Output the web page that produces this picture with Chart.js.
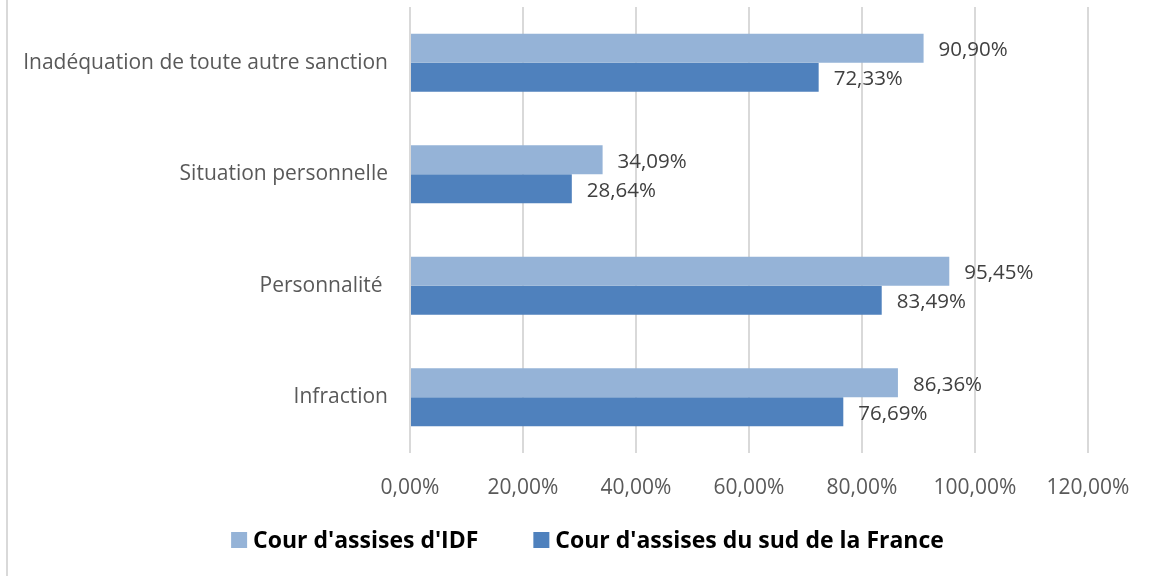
<!DOCTYPE html>
<html>
<head>
<meta charset="utf-8">
<script src="https://cdn.jsdelivr.net/npm/chart.js@4.4.1/dist/chart.umd.min.js"></script>
<style>
  html, body { margin: 0; padding: 0; background: #fff; }
  #wrap { position: relative; width: 1153px; height: 576px; }
  #edge { position: absolute; left: 6px; top: 0; width: 2px; height: 576px; background: #d9d9d9; }
  canvas { display: block; }
</style>
</head>
<body>
<div id="wrap">
  <div id="edge"></div>
  <canvas id="motifsChart" width="1153" height="576"></canvas>
</div>
<script>
// categories, top to bottom
const categories = [
    'Inadéquation de toute autre sanction',
    'Situation personnelle',
    'Personnalité ',
    'Infraction'
];
const seriesNames = ["Cour d'assises d'IDF", "Cour d'assises du sud de la France"];
const idfValues = [90.90, 34.09, 95.45, 86.36];
const sudValues = [72.33, 28.64, 83.49, 76.69];
const xTicks = [0, 20, 40, 60, 80, 100, 120];

const FONT = '"Open Sans", Lato, sans-serif';

function pct(v) {
    return v.toFixed(2).replace('.', ',') + '%';
}

// writes the value next to the end of each bar
const barValues = {
    id: 'barValues',
    afterDatasetsDraw(chart) {
        const ctx = chart.ctx;
        ctx.save();
        ctx.font = '20.5px ' + FONT;
        ctx.fillStyle = '#404040';
        ctx.textAlign = 'left';
        ctx.textBaseline = 'middle';
        chart.data.datasets.forEach((ds, i) => {
            chart.getDatasetMeta(i).data.forEach((bar, j) => {
                ctx.fillText(pct(ds.data[j]), bar.x + 15, bar.y + 2);
            });
        });
        ctx.restore();
    }
};

// legend row under the axis, Excel style (wide gap between entries)
const bottomLegend = {
    id: 'bottomLegend',
    afterDraw(chart) {
        const ctx = chart.ctx;
        const box = 16, gap = 6, spacing = 55;
        const y = 540;
        ctx.save();
        ctx.font = 'bold 23px ' + FONT;
        ctx.textBaseline = 'middle';
        ctx.textAlign = 'left';
        const items = chart.data.datasets.map(ds => ({
            text: ds.label,
            color: ds.backgroundColor,
            w: box + gap + ctx.measureText(ds.label).width
        }));
        const total = items.reduce((s, it) => s + it.w, 0) + spacing * (items.length - 1);
        let x = chart.width / 2 + 11 - total / 2;
        items.forEach(it => {
            ctx.fillStyle = it.color;
            ctx.fillRect(x, y - box / 2, box, box);
            ctx.fillStyle = '#000';
            ctx.fillText(it.text, x + box + gap, y + 1);
            x += it.w + spacing;
        });
        ctx.restore();
    }
};

const ctx = document.getElementById('motifsChart').getContext('2d');
new Chart(ctx, {
    type: 'bar',
    data: {
        labels: categories,
        datasets: [
            {
                label: seriesNames[0],
                data: idfValues,
                backgroundColor: '#95b3d7',
                categoryPercentage: 0.52,
                barPercentage: 1
            },
            {
                label: seriesNames[1],
                data: sudValues,
                backgroundColor: '#4f81bd',
                categoryPercentage: 0.52,
                barPercentage: 1
            }
        ]
    },
    options: {
        indexAxis: 'y',
        responsive: false,
        animation: false,
        layout: {
            padding: { left: 0, top: 7, right: 65, bottom: 73 }
        },
        scales: {
            x: {
                min: 0,
                max: 120,
                afterBuildTicks: scale => {
                    scale.ticks = xTicks.map(v => ({ value: v }));
                },
                afterFit: scale => { scale.height = 50; },
                ticks: {
                    callback: v => pct(v),
                    color: '#595959',
                    font: { family: FONT, size: 21 },
                    padding: 22,
                    maxRotation: 0
                },
                grid: { color: '#d9d9d9', lineWidth: 2, drawTicks: false },
                border: { display: false }
            },
            y: {
                afterFit: scale => {
                    scale.width = 410;
                    scale.paddingTop = 0;
                    scale.paddingBottom = 0;
                },
                ticks: {
                    color: '#595959',
                    font: { family: FONT, size: 21 },
                    padding: 22
                },
                grid: { display: false, drawTicks: false },
                border: { display: false }
            }
        },
        plugins: {
            legend: { display: false },
            tooltip: { enabled: false }
        }
    },
    plugins: [barValues, bottomLegend]
});
</script>
</body>
</html>
